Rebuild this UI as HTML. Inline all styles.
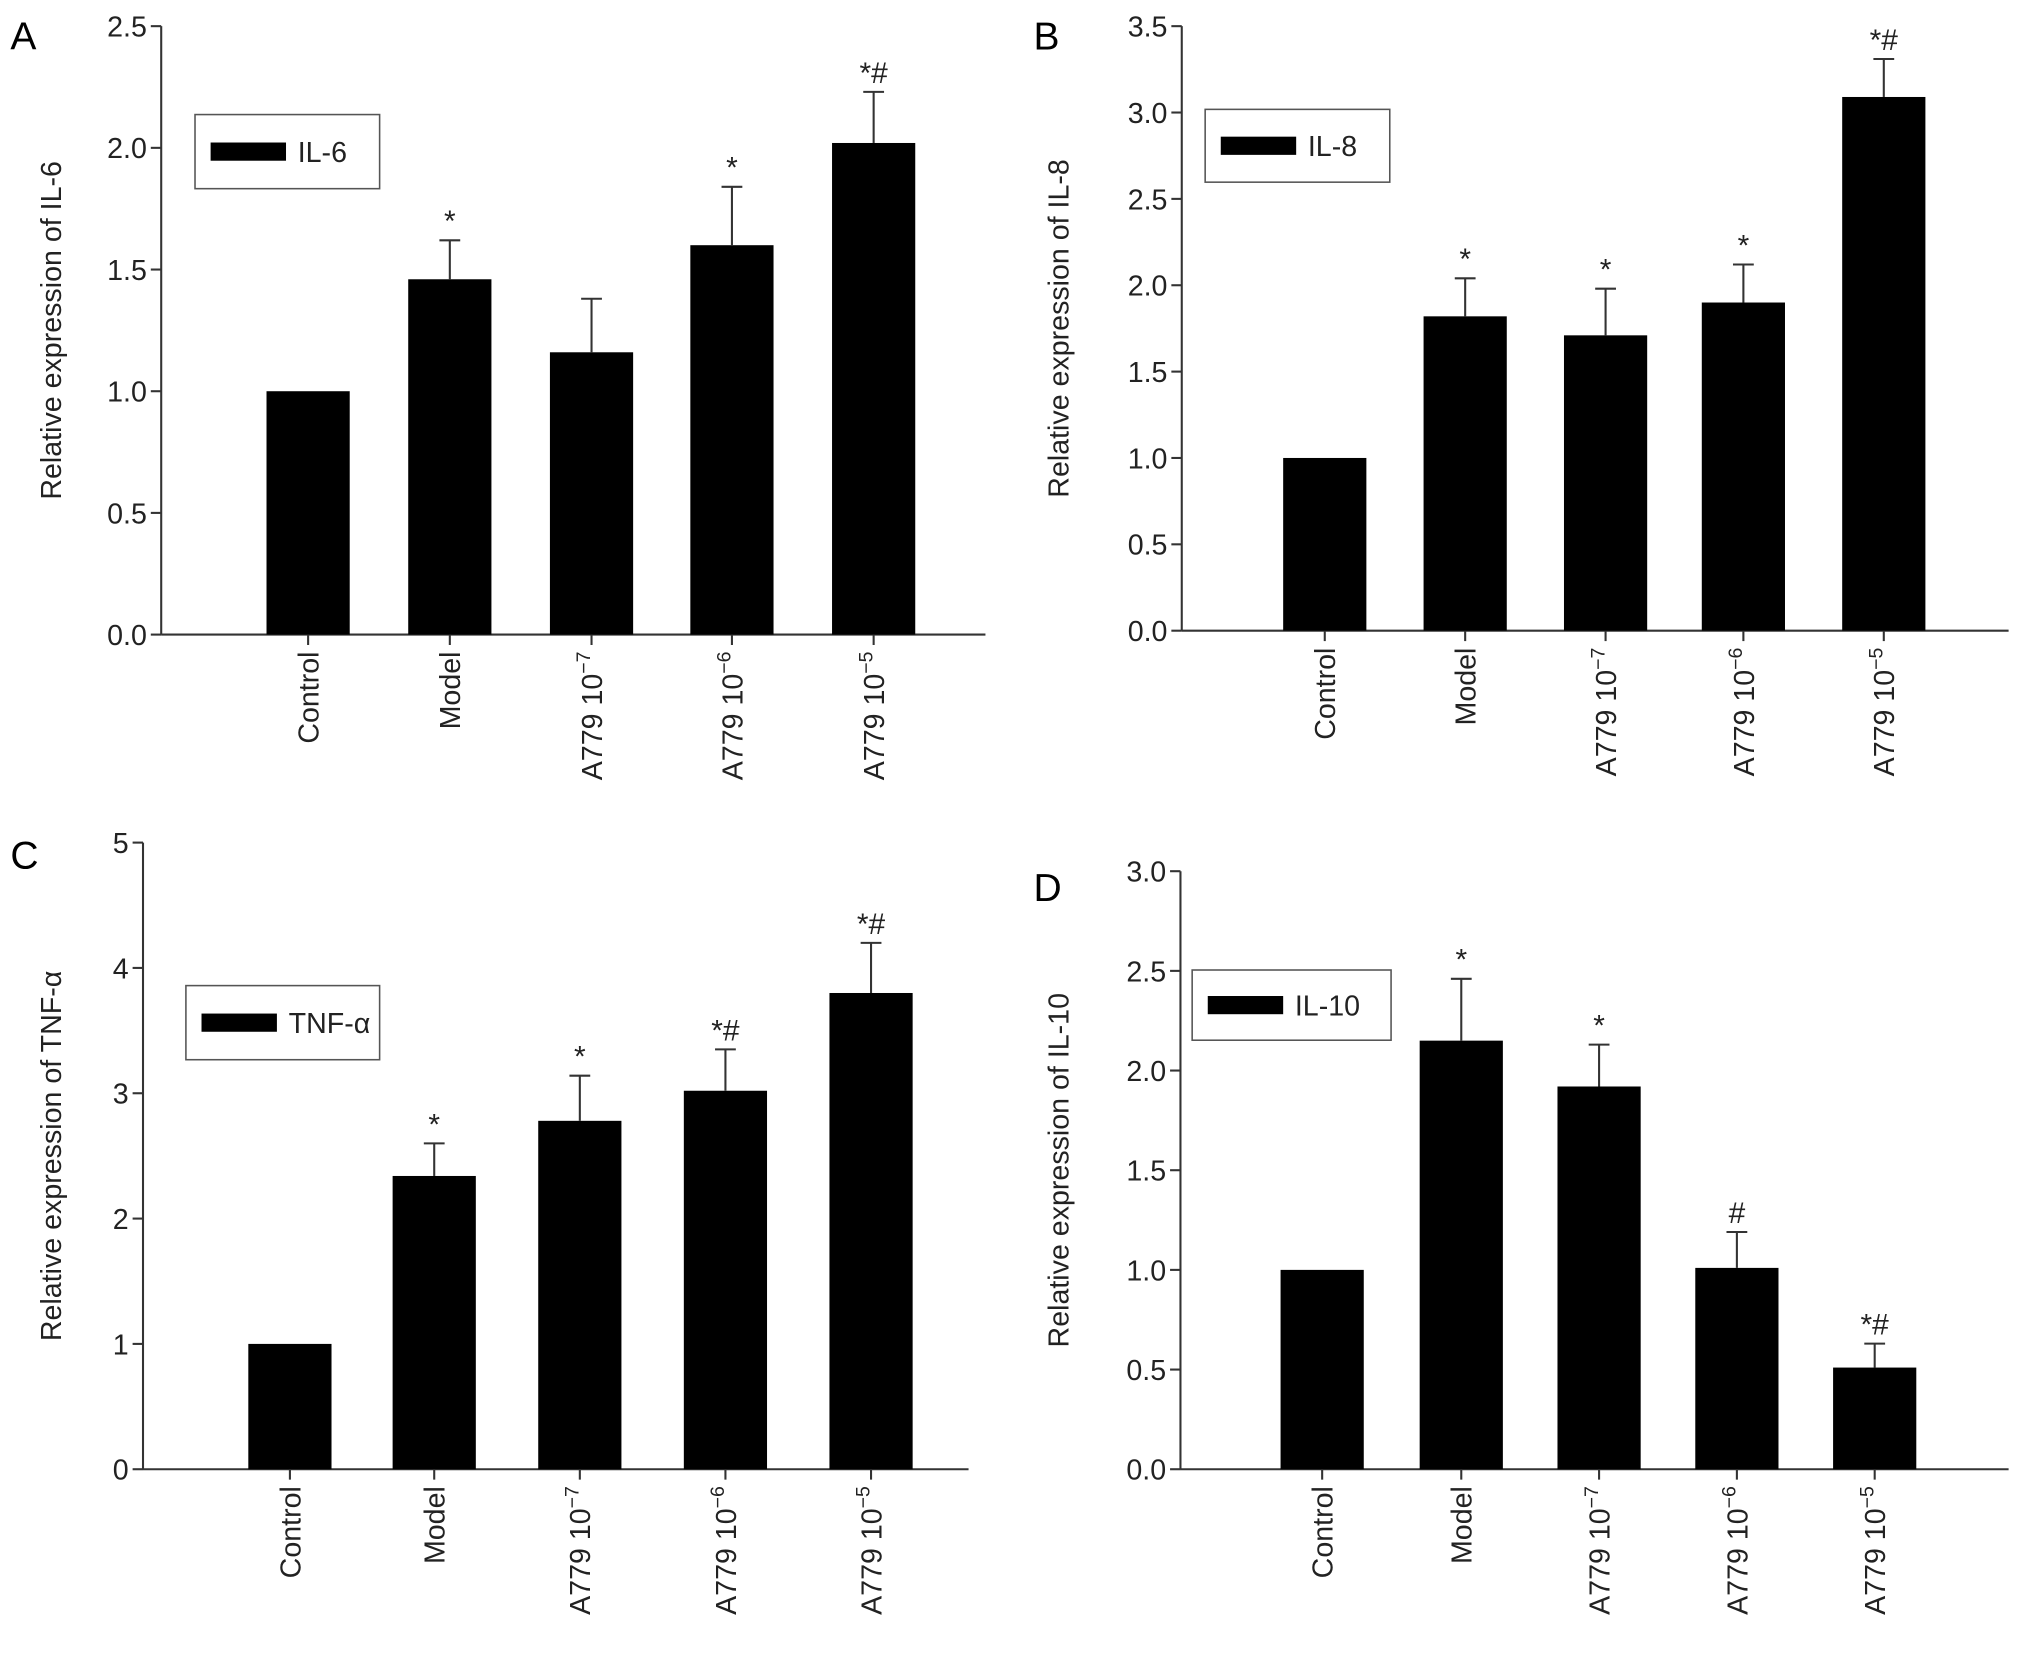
<!DOCTYPE html>
<html><head><meta charset="utf-8"><style>
html,body{margin:0;padding:0;background:#fff}
svg{display:block;font-family:"Liberation Sans",Arial,sans-serif}
</style></head><body>
<svg id="fig" width="2032" height="1654" viewBox="0 0 1563 1272" xmlns="http://www.w3.org/2000/svg"></svg>
<script>
const categories = ["Control","Model","A779 10","A779 10","A779 10"];
const catSup = ["","","−7","−6","−5"];
const valuesA = [1.0,1.46,1.16,1.60,2.02];
const errA = [1.0,1.62,1.38,1.84,2.23];
const annA = ["","*","","*","*#"];
const ticksA = ["0.0","0.5","1.0","1.5","2.0","2.5"];
const valuesB = [1.0,1.82,1.71,1.90,3.09];
const errB = [1.0,2.04,1.98,2.12,3.31];
const annB = ["","*","*","*","*#"];
const ticksB = ["0.0","0.5","1.0","1.5","2.0","2.5","3.0","3.5"];
const valuesC = [1.0,2.34,2.78,3.02,3.80];
const errC = [1.0,2.60,3.14,3.35,4.20];
const annC = ["","*","*","*#","*#"];
const ticksC = ["0","1","2","3","4","5"];
const valuesD = [1.0,2.15,1.92,1.01,0.51];
const errD = [1.0,2.46,2.13,1.19,0.63];
const annD = ["","*","*","#","*#"];
const ticksD = ["0.0","0.5","1.0","1.5","2.0","2.5","3.0"];

const NS="http://www.w3.org/2000/svg";
const svg=document.getElementById('fig');
function mk(tag,attrs,parent){const e=document.createElementNS(NS,tag);for(const k in attrs)e.setAttribute(k,attrs[k]);(parent||svg).appendChild(e);return e;}

const panels=[
 {id:'a',letter:'A',lx:8,ly:38,ax:124,x1:758,yTop:20,yBot:488,max:2.5,centers:[237,346,455,563,672],vals:valuesA,err:errA,ann:annA,ticks:ticksA,title:'Relative expression of IL-6',tx:47,legend:[150,88,142,57],legText:'IL-6'},
 {id:'b',letter:'B',lx:795,ly:38,ax:909,x1:1545,yTop:20,yBot:485,max:3.5,centers:[1019,1127,1235,1341,1449],vals:valuesB,err:errB,ann:annB,ticks:ticksB,title:'Relative expression of IL-8',tx:822,legend:[927,84,142,56],legText:'IL-8'},
 {id:'c',letter:'C',lx:8,ly:668,ax:110,x1:745,yTop:648,yBot:1130,max:5,centers:[223,334,446,558,670],vals:valuesC,err:errC,ann:annC,ticks:ticksC,title:'Relative expression of TNF-α',tx:47,legend:[143,758,149,57],legText:'TNF-α'},
 {id:'d',letter:'D',lx:795,ly:693,ax:908,x1:1545,yTop:670,yBot:1130,max:3.0,centers:[1017,1124,1230,1336,1442],vals:valuesD,err:errD,ann:annD,ticks:ticksD,title:'Relative expression of IL-10',tx:822,legend:[917,746,153,54],legText:'IL-10'}
];

panels.forEach(p=>{
 const g=mk('g',{});
 
 
 const y=v=>p.yBot-(v/p.max)*(p.yBot-p.yTop);
 const L=mk('text',{x:p.lx,y:p.ly,'font-size':30,fill:'#000'},g);L.textContent=p.letter;
 
 const ya=mk('line',{x1:p.ax,y1:p.yTop,x2:p.ax,y2:p.yBot,stroke:'#333','stroke-width':1.6},g);
 
 const xa=mk('line',{x1:p.ax,y1:p.yBot,x2:p.x1,y2:p.yBot,stroke:'#333','stroke-width':1.6},g);
 
 const n=p.ticks.length;
 p.ticks.forEach((t,i)=>{
  const v=p.max*i/(n-1);const yy=y(v);
  mk('line',{x1:p.ax-8,y1:yy,x2:p.ax,y2:yy,stroke:'#333','stroke-width':1.6},g);
  const tl=mk('text',{x:p.ax-11,y:yy+8,'font-size':22,'text-anchor':'end',fill:'#222'},g);tl.textContent=t;
  
 });
 const yt=mk('text',{x:p.tx,y:(p.yTop+p.yBot)/2,'font-size':22,'text-anchor':'middle',fill:'#222',transform:`rotate(-90 ${p.tx} ${(p.yTop+p.yBot)/2})`},g);
 yt.textContent=p.title;
 p.vals.forEach((v,i)=>{
  const cx=p.centers[i];
  const b=mk('rect',{x:cx-32,y:y(v),width:64,height:p.yBot-y(v),fill:'#000'},g);
  
  
  if(p.err[i]>v+0.001){
   mk('line',{x1:cx,y1:y(v),x2:cx,y2:y(p.err[i]),stroke:'#333','stroke-width':1.6},g);
   mk('line',{x1:cx-8,y1:y(p.err[i]),x2:cx+8,y2:y(p.err[i]),stroke:'#333','stroke-width':1.6},g);
  }
  if(p.ann[i]){
   const a=mk('text',{x:cx,y:y(p.err[i])-7,'font-size':23,'text-anchor':'middle',fill:'#222'},g);
   a.textContent=p.ann[i];
  }
  mk('line',{x1:cx,y1:p.yBot,x2:cx,y2:p.yBot+8,stroke:'#333','stroke-width':1.6},g);
  const lx=cx+8,ly=p.yBot+13;
  const xl=mk('text',{x:lx,y:ly,'font-size':22,'text-anchor':'end',fill:'#222',transform:`rotate(-90 ${lx} ${ly})`},g);
  
  xl.appendChild(document.createTextNode(categories[i]));
  if(catSup[i]){const s=mk('tspan',{'font-size':15,dy:-9},xl);s.textContent=catSup[i];}
 });
 const [lx,ly,lw,lh]=p.legend;
 const lg=mk('g',{},g);
 mk('rect',{x:lx,y:ly,width:lw,height:lh,fill:'#fff',stroke:'#555','stroke-width':1.2},lg);
 mk('rect',{x:lx+12,y:ly+lh/2-7,width:58,height:14,fill:'#000'},lg);
 const lt=mk('text',{x:lx+79,y:ly+lh/2+8,'font-size':22,fill:'#222'},lg);lt.textContent=p.legText;
 
});
</script>
</body></html>
